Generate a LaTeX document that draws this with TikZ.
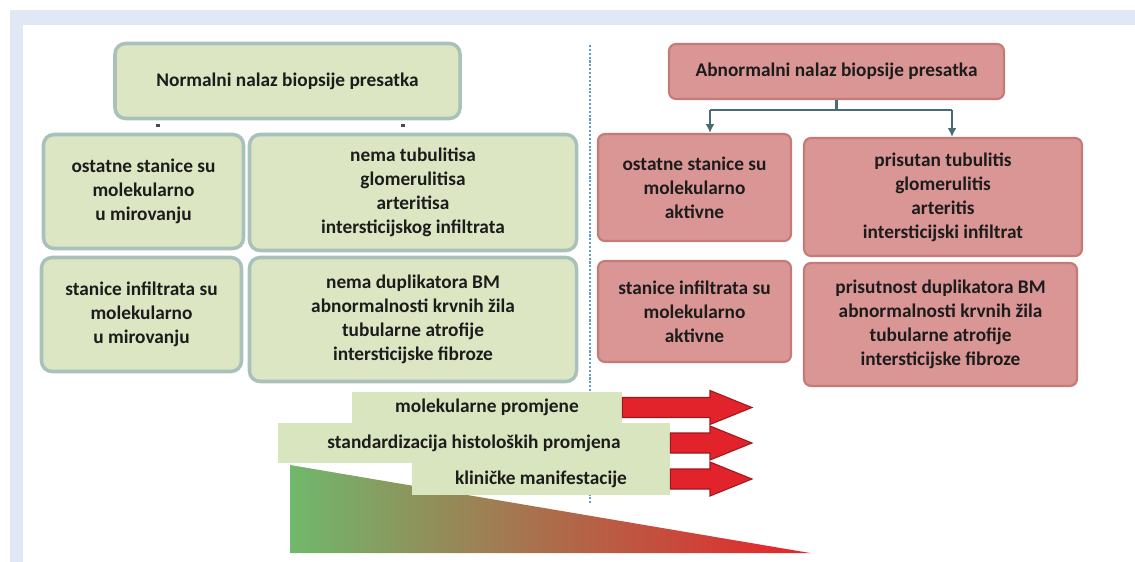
\documentclass[tikz,border=0pt]{standalone}
\usepackage{fontspec}
\setmainfont{Carlito}
\usepackage{xcolor}
\usepackage{tikz}
\usetikzlibrary{arrows.meta,positioning,calc}
\definecolor{framebg}{HTML}{E1E8F5}
\definecolor{greenfill}{HTML}{DCE6C3}
\definecolor{greenedge}{HTML}{A8C1BA}
\definecolor{labfill}{HTML}{D8E5BE}
\definecolor{redfill}{HTML}{DA9694}
\definecolor{rededge}{HTML}{C47A78}
\definecolor{connline}{HTML}{4A6B76}
\definecolor{sepblue}{HTML}{5E9CD3}
\definecolor{arrowred}{HTML}{E3232B}
\definecolor{txtdark}{HTML}{1C1C1C}
\definecolor{wedgegreen}{HTML}{70B86C}
\definecolor{wedgemid}{HTML}{C2733F}
\definecolor{wedgered}{HTML}{E8222A}

\begin{document}
\begin{tikzpicture}[every node/.style={font=\bfseries\fontsize{11}{13.6}\selectfont, text=txtdark}, gbox/.style={draw=greenedge, line width=2pt, rounded corners=6pt, fill=greenfill, align=center, inner sep=0pt}, rbox/.style={draw=rededge, line width=1.2pt, rounded corners=4pt, fill=redfill, align=center, inner sep=0pt}, lab/.style={fill=labfill, inner sep=0pt, align=center}, stub/.style={line width=2pt, draw=txtdark!80}, conn/.style={line width=1.2pt, draw=connline}, bigarrow/.style={fill=arrowred, draw=arrowred!70!black, line width=0.6pt}]
\useasboundingbox (0,0) rectangle (22.7,-11.24);
\fill[framebg] (0.2,-0.2) rectangle (22.7,-11.24);
\fill[white] (0.46,-0.5) rectangle (22.7,-11.24);
% gradient wedge
\shade[left color=wedgegreen, middle color=wedgemid, right color=wedgered] (5.8,-9.3) -- (16.2,-11.06) -- (5.8,-11.06) -- cycle;
% separator
\draw[sepblue, line width=1.4pt, dash pattern=on 1.2pt off 1pt] (11.8,-0.9) -- (11.8,-10.06);
% normal side
\node[gbox, minimum width=6.9cm, minimum height=1.5cm] (normal) at (5.75,-1.62) {Normalni nalaz biopsije presatka};
\node[gbox, minimum width=4cm, minimum height=2.28cm] (g11) at (2.87,-3.83) {ostatne stanice su\\molekularno\\u mirovanju};
\node[gbox, minimum width=6.54cm, minimum height=2.32cm] (g12) at (8.26,-3.85) {nema tubulitisa\\glomerulitisa\\arteritisa\\intersticijskog infiltrata};
\node[gbox, minimum width=4cm, minimum height=2.28cm] (g21) at (2.83,-6.29) {stanice infiltrata su\\molekularno\\u mirovanju};
\node[gbox, minimum width=6.54cm, minimum height=2.48cm] (g22) at (8.26,-6.39) {nema duplikatora BM\\abnormalnosti krvnih žila\\tubularne atrofije\\intersticijske fibroze};
\coordinate (ga) at (3.16,-2.5);
\coordinate (gb) at (8.06,-2.5);
\draw[stub, shorten <=2.2pt, shorten >=3.2pt] (normal.south -| ga) -- (g11.north -| ga);
\draw[stub, shorten <=2.2pt, shorten >=3.2pt] (normal.south -| gb) -- (g12.north -| gb);
% abnormal side
\node[rbox, minimum width=6.7cm, minimum height=1.1cm] (abnormal) at (16.73,-1.43) {Abnormalni nalaz biopsije presatka};
\node[rbox, minimum width=3.86cm, minimum height=2.14cm] (r11) at (13.89,-3.75) {ostatne stanice su\\molekularno\\aktivne};
\node[rbox, minimum width=5.56cm, minimum height=2.36cm] (r12) at (18.86,-3.94) {prisutan tubulitis\\glomerulitis\\arteritis\\intersticijski infiltrat};
\node[rbox, minimum width=3.86cm, minimum height=2.02cm] (r21) at (13.89,-6.23) {stanice infiltrata su\\molekularno\\aktivne};
\node[rbox, minimum width=5.46cm, minimum height=2.46cm] (r22) at (18.81,-6.49) {prisutnost duplikatora BM\\abnormalnosti krvnih žila\\tubularne atrofije\\intersticijske fibroze};
\coordinate (ra) at (14.2,-2.2);
\coordinate (rb) at (19.04,-2.2);
\draw[conn] (abnormal.south) -- (abnormal.south |- ra);
\draw[conn] (ra) -- (rb);
\draw[conn, -{Latex[length=5pt,width=5pt]}] (ra) -- (ra |- r11.north);
\draw[conn, -{Latex[length=5pt,width=5pt]}] (rb) -- (rb |- r12.north);
% bottom labels
\node[lab, minimum width=5.4cm, minimum height=0.62cm] (lab1) at (9.74,-8.15) {molekularne promjene};
\node[lab, minimum width=7.84cm, minimum height=0.8cm] (lab2) at (9.48,-8.86) {standardizacija histoloških promjena};
\node[lab, minimum width=5.16cm, minimum height=0.64cm] (lab3) at (10.82,-9.58) {kliničke manifestacije};
\coordinate (hb) at (14.2,0);
\coordinate (tip) at (15.04,0);
\foreach \l in {lab1,lab2,lab3}
  \filldraw[bigarrow] ($(\l.east)+(0,0.2)$) -- ($(\l.east -| hb)+(0,0.2)$) -- ($(\l.east -| hb)+(0,0.34)$) -- (\l.east -| tip) -- ($(\l.east -| hb)+(0,-0.34)$) -- ($(\l.east -| hb)+(0,-0.2)$) -- ($(\l.east)+(0,-0.2)$) -- cycle;
\end{tikzpicture}
\end{document}
